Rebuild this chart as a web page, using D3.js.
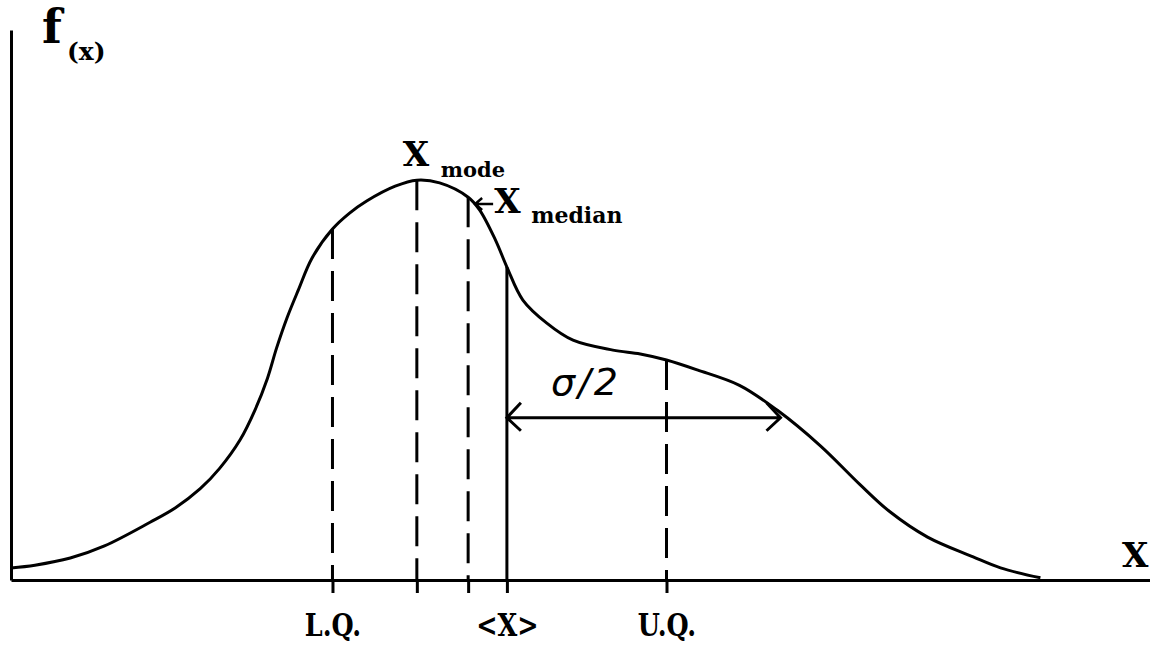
<!DOCTYPE html>
<html lang="en">
<head>
<meta charset="UTF-8">
<title>f(x)</title>
<script src="https://cdn.jsdelivr.net/npm/d3@7"></script>
<style>
    body { margin: 0; background: #fff; }
    svg { display: block; }
    text { font-family: "DejaVu Serif", serif; font-weight: bold; fill: #000; }
</style>
</head>
<body>
<svg width="1150" height="646"></svg>
<script>
    // distribution curve, arbitrary units (x 0-100, f 0-100)
    var curveX = [0, 2.1, 5.2, 8.2, 12.2, 14.4, 16.6, 18.3, 20.1, 21.4, 22.5, 23.3, 24.2, 25.2, 26.4, 28.2,
        29.7, 31.2, 33.7, 35.6, 37.6, 40.1, 41.1, 42.5, 43.5, 44.9, 47.0, 49.3, 52.8, 55.2, 57.5, 60.2, 63.9, 67.2,
        71.0, 74.5, 77.1, 80.4, 84.4, 86.8, 90.3];
    var curveF = [2.2, 2.7, 4.0, 6.2, 10.5, 13.1, 16.6, 20.3, 25.5, 30.9, 36.7, 42.2, 47.6, 52.7, 58.5, 63.8,
        66.7, 68.9, 71.6, 72.7, 72.2, 69.6, 67.3, 61.8, 56.9, 50.9, 46.7, 43.6, 41.8, 41.1, 40.0, 38.2, 35.4, 30.9,
        24.4, 17.3, 12.4, 7.8, 4.2, 2.2, 0.4];

    // L.Q., mode, median, mean, U.Q.
    var markerX = [28.2, 35.6, 40.1, 43.5, 57.5];
    var markerLabels = ["L.Q.", "", "", "<X>", "U.Q."];
    var markerDashed = [true, true, true, false, true];
    var halfSigma = 24.0;
    var arrowF = 29.5;

    var svg = d3.select("svg");
    var x = d3.scaleLinear().domain([0, 100]).range([11, 1151]);
    var y = d3.scaleLinear().domain([0, 100]).range([580, 30]);

    function fAt(v) {
        var i = d3.bisectLeft(curveX, v);
        if (i <= 0) return curveF[0];
        if (i >= curveX.length) return curveF[curveX.length - 1];
        var t = (v - curveX[i - 1]) / (curveX[i] - curveX[i - 1]);
        return curveF[i - 1] + t * (curveF[i] - curveF[i - 1]);
    }

    // axes
    var xAxis = svg.append("g")
        .attr("transform", "translate(0," + y(0) + ")")
        .call(d3.axisBottom(x)
            .tickValues(markerX)
            .tickSize(13)
            .tickSizeOuter(0)
            .tickPadding(21)
            .tickFormat(function (d, i) { return markerLabels[i]; }));
    xAxis.selectAll("path, line").attr("stroke", "#000").attr("stroke-width", 3);
    xAxis.selectAll("text")
        .style("font-family", "'DejaVu Serif', serif")
        .style("font-weight", "bold")
        .style("font-size", "31px")
        .attr("fill", "#000")
        .each(function () {
            var w = this.getComputedTextLength();
            if (w > 0) d3.select(this).attr("textLength", w * 0.82).attr("lengthAdjust", "spacingAndGlyphs");
        });

    var yAxis = svg.append("g")
        .attr("transform", "translate(" + x(0) + ",0)")
        .call(d3.axisLeft(y).tickValues([]).tickSizeOuter(0));
    yAxis.select("path").attr("stroke", "#000").attr("stroke-width", 3);

    // vertical marker lines
    svg.selectAll(".marker")
        .data(markerX)
        .enter()
        .append("line")
        .attr("class", "marker")
        .attr("x1", function (d) { return x(d); })
        .attr("x2", function (d) { return x(d); })
        .attr("y1", function (d) { return y(fAt(d)); })
        .attr("y2", y(0))
        .attr("stroke", "#000")
        .attr("stroke-width", 3)
        .attr("stroke-dasharray", function (d, i) { return markerDashed[i] ? "30,12" : null; });

    // curve
    var line = d3.line()
        .x(function (i) { return x(curveX[i]); })
        .y(function (i) { return y(curveF[i]); })
        .curve(d3.curveCatmullRom);
    svg.append("path")
        .datum(d3.range(curveX.length))
        .attr("d", line)
        .attr("fill", "none")
        .attr("stroke", "#000")
        .attr("stroke-width", 3);

    // sigma/2 double arrow
    var ax0 = x(markerX[3]), ax1 = x(markerX[3] + halfSigma), ay = y(arrowF);
    svg.append("path")
        .attr("d", "M" + ax0 + "," + ay + "H" + ax1 +
            "M" + (ax0 + 14) + "," + (ay - 15) + "L" + ax0 + "," + ay + "L" + (ax0 + 14) + "," + (ay + 13) +
            "M" + (ax1 - 14) + "," + (ay - 15) + "L" + ax1 + "," + ay + "L" + (ax1 - 14) + "," + (ay + 13))
        .attr("fill", "none")
        .attr("stroke", "#000")
        .attr("stroke-width", 3);
    svg.append("text")
        .attr("x", ax0 + 44)
        .attr("y", ay - 23)
        .style("font-family", "'DejaVu Sans', sans-serif")
        .style("font-style", "italic")
        .style("font-weight", "normal")
        .style("font-size", "38px")
        .style("letter-spacing", "3px")
        .text("σ/2");

    // median pointer arrow
    var mx = x(markerX[2]) + 7, my = 204;
    svg.append("path")
        .attr("d", "M" + mx + "," + my + "H" + (mx + 18) +
            "M" + (mx + 7) + "," + (my - 6) + "L" + mx + "," + my + "L" + (mx + 7) + "," + (my + 6))
        .attr("fill", "none")
        .attr("stroke", "#000")
        .attr("stroke-width", 2.5);

    // labels
    function label(tx, ty, size, str) {
        return svg.append("text").attr("x", tx).attr("y", ty).style("font-size", size + "px").text(str);
    }
    label(42, 43, 46, "f");
    label(67, 60, 25, "(x)");
    label(x(markerX[1]) - 14, 166, 34, "X");
    label(x(markerX[1]) + 24, 177, 21, "mode");
    label(mx + 19, 213, 34, "X");
    label(mx + 56, 223, 22, "median");
    label(1122, 567, 34, "X");
</script>
</body>
</html>
